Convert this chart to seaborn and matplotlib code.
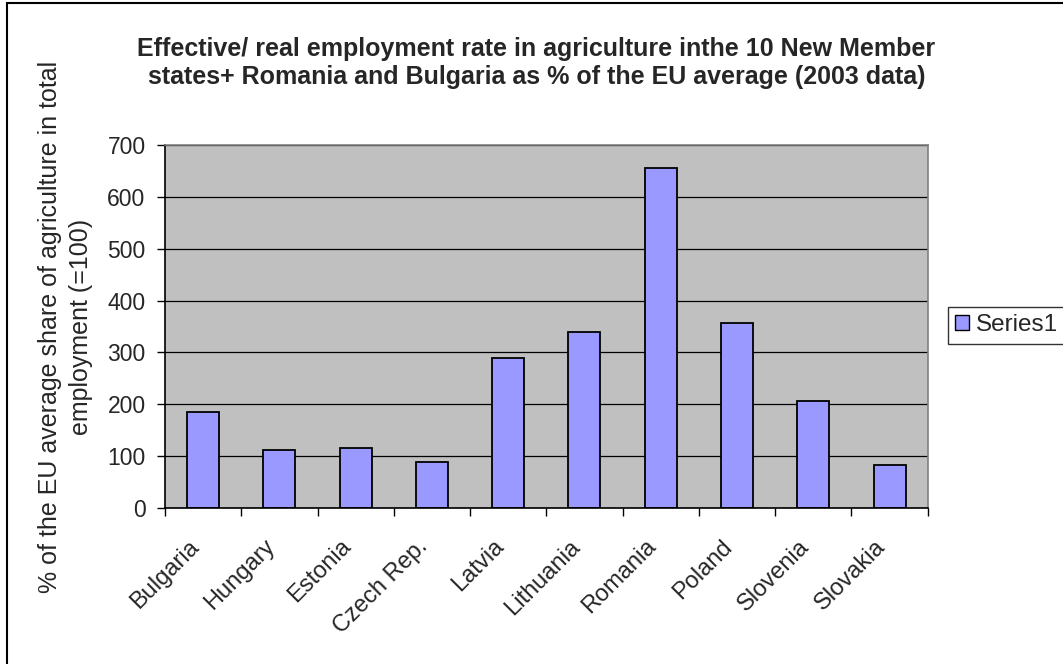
import matplotlib
matplotlib.use("Agg")
import matplotlib.pyplot as plt
import seaborn as sns
import pandas as pd
from matplotlib.patches import Rectangle, Patch

countries = ["Bulgaria", "Hungary", "Estonia", "Czech Rep.", "Latvia",
             "Lithuania", "Romania", "Poland", "Slovenia", "Slovakia"]
values = [185, 112, 116, 88, 290, 340, 655, 356, 207, 83]
y_ticks = [0, 100, 200, 300, 400, 500, 600, 700]

title = ("Effective/ real employment rate in agriculture inthe 10 New Member\n"
         "states+ Romania and Bulgaria as % of the EU average (2003 data)")
y_label = "% of the EU average share of agriculture in total\nemployment (=100)"
series_name = "Series1"

sns.set_theme(style="white")
plt.rcParams["font.family"] = ["Liberation Sans", "DejaVu Sans"]

df = pd.DataFrame({"country": countries, "value": values})

fig = plt.figure(figsize=(10.63, 6.64), dpi=100)
ax = fig.add_axes([0.1552, 0.2349, 0.8727 - 0.1552, 0.7816 - 0.2349])
ax.set_facecolor("#C0C0C0")

sns.barplot(data=df, x="country", y="value", ax=ax, color="#9999FF",
            width=0.42, edgecolor="black", linewidth=1.3, saturation=1)

ax.set_ylim(0, 700)
ax.set_xlim(-0.5, len(countries) - 0.5)
ax.set_yticks(y_ticks)
ax.yaxis.grid(True, color="black", linewidth=0.9)
ax.set_axisbelow(True)

# ticks sit on the category boundaries, labels centred under each bar
ax.set_xticks([i - 0.5 for i in range(len(countries) + 1)])
ax.set_xticklabels([])
ax.set_xticks(range(len(countries)), minor=True)
ax.set_xticklabels(countries, minor=True, rotation=45, ha="right",
                   va="bottom", rotation_mode="anchor", fontsize=17)
ax.tick_params(axis="x", which="major", direction="out", length=6,
               width=1, color="black", bottom=True)
ax.tick_params(axis="x", which="minor", length=0, pad=31)
ax.tick_params(axis="y", direction="out", length=6, width=1, color="black",
               left=True, labelsize=16.5, pad=8)

for side in ("left", "bottom"):
    ax.spines[side].set_color("black")
    ax.spines[side].set_linewidth(1.2)
for side in ("top", "right"):
    ax.spines[side].set_visible(True)
    ax.spines[side].set_color("#808080")
    ax.spines[side].set_linewidth(1.2)

ax.set_xlabel("")
ax.set_ylabel(y_label, fontsize=18, labelpad=10, linespacing=1.4)

fig.text(0.5 * (130 + 943) / 1063, 1 - 63 / 664, title, ha="center", va="center",
         fontsize=18, fontweight="bold", linespacing=1.22)

leg = fig.legend(handles=[Patch(facecolor="#9999FF", edgecolor="black",
                                linewidth=1, label=series_name)],
                 loc="upper left", bbox_to_anchor=(948 / 1063, 1 - 307 / 664),
                 frameon=True, fancybox=False, fontsize=17.5,
                 handlelength=0.55, handleheight=0.55, handletextpad=0.3,
                 borderpad=0.3, borderaxespad=0)
leg.get_frame().set_edgecolor("black")
leg.get_frame().set_linewidth(1)

# outer chart frame
fig.patches.append(Rectangle((7 / 1063, -0.1), 1.2, 1 - 3 / 664 + 0.1,
                             transform=fig.transFigure, fill=False,
                             edgecolor="black", linewidth=1.5))

fig.savefig("out.png", dpi=100)
